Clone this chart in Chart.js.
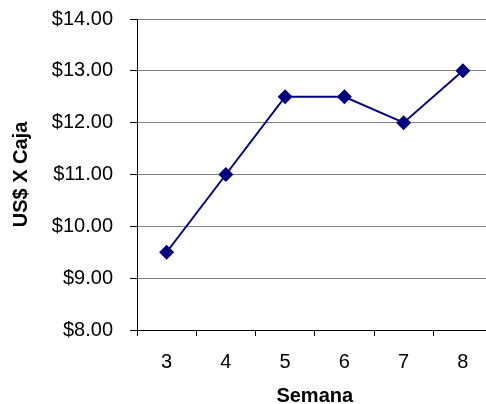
<!DOCTYPE html>
<html>
<head>
<meta charset="utf-8">
<script src="https://cdn.jsdelivr.net/npm/chart.js@4"></script>
<style>
    html, body { margin: 0; padding: 0; background: #fff; overflow: hidden; }
    #wrap { width: 500px; height: 404px; }
</style>
</head>
<body>
<div id="wrap"><canvas id="precioChart" width="500" height="404"></canvas></div>
<script>
// semanas y precio por caja
const semanas = ['3', '4', '5', '6', '7', '8'];
const precios = [9.5, 11, 12.5, 12.5, 12, 13];
const yMin = 8;
const yMax = 14;
const yStep = 1;

Chart.defaults.font.family = "'Liberation Sans', Arial, sans-serif";
Chart.defaults.color = '#000';

const data = {
    labels: semanas,
    datasets: [{
        label: 'US$ X Caja',
        data: precios,
        borderColor: '#000080',
        backgroundColor: '#000080',
        borderWidth: 2,
        pointStyle: 'rectRot',
        pointRadius: 7.5,
        pointHoverRadius: 7.5,
        pointBorderWidth: 0,
        tension: 0
    }]
};

const config = {
    type: 'line',
    data: data,
    options: {
        responsive: false,
        animation: false,
        layout: { padding: { top: 19, right: 2, left: 0, bottom: 0 } },
        plugins: {
            legend: { display: false },
            tooltip: { enabled: false }
        },
        scales: {
            x: {
                offset: true,
                grid: {
                    offset: true,
                    drawOnChartArea: false,
                    drawTicks: true,
                    tickLength: 6,
                    tickColor: '#000'
                },
                border: { color: '#000', width: 1 },
                ticks: { font: { size: 20 }, padding: 14, color: '#000' },
                title: {
                    display: true,
                    text: 'Semana',
                    font: { size: 20, weight: 'bold', lineHeight: 1 },
                    padding: { top: 0, bottom: -2 },
                    color: '#000'
                },
                afterFit: function (scale) {
                    scale.height = 74;
                    scale.paddingLeft = 0;
                    scale.paddingRight = 0;
                }
            },
            y: {
                min: yMin,
                max: yMax,
                ticks: {
                    stepSize: yStep,
                    font: { size: 20 },
                    padding: 17,
                    color: '#000',
                    callback: function (v) { return '$' + v.toFixed(2); }
                },
                grid: {
                    color: '#808080',
                    lineWidth: 1,
                    tickLength: 7,
                    tickColor: '#000'
                },
                border: { color: '#000', width: 1 },
                title: {
                    display: true,
                    text: 'US$ X Caja',
                    font: { size: 20, weight: 'bold', lineHeight: 1 },
                    padding: { top: 11, bottom: 0 },
                    color: '#000'
                },
                afterFit: function (scale) {
                    scale.width = 137;
                    scale.paddingTop = 0;
                    scale.paddingBottom = 0;
                }
            }
        }
    }
};

const precioChart = new Chart(document.getElementById('precioChart'), config);
</script>
</body>
</html>
